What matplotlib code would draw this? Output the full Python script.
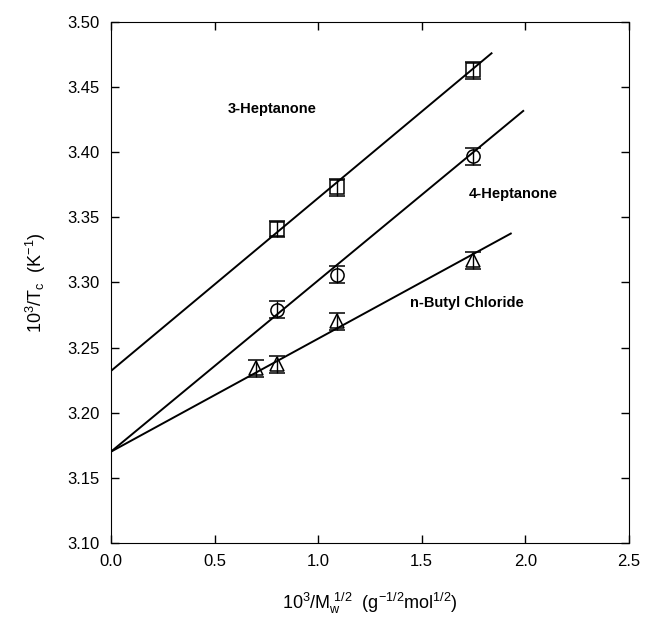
import matplotlib
matplotlib.use("Agg")
import matplotlib.pyplot as plt
import numpy as np

plt.rcParams['font.family'] = ['Liberation Sans', 'DejaVu Sans']
plt.rcParams['mathtext.default'] = 'regular'

# Data
x_3hep = [0.80, 1.09, 1.75]
y_3hep = [3.341, 3.373, 3.463]
x_4hep = [0.80, 1.09, 1.75]
y_4hep = [3.279, 3.306, 3.397]
x_nbc = [0.70, 0.80, 1.09, 1.75]
y_nbc = [3.234, 3.237, 3.270, 3.317]
err = 0.0065

# fitted lines: intercept, slope, end of line
fit_3hep = (3.232, 0.1328, 1.837)
fit_4hep = (3.170, 0.1315, 1.99)
fit_nbc = (3.170, 0.0868, 1.93)

fig = plt.figure(figsize=(6.45, 6.19), dpi=100)
ax = fig.add_axes([0.172, 0.123, 0.803, 0.8415])

for (b, m, xe) in [fit_3hep, fit_4hep, fit_nbc]:
    xs = np.array([0.0, xe])
    ax.plot(xs, b + m * xs, color='black', lw=1.4, zorder=2)

for xs, ys, mk in [(x_3hep, y_3hep, 's'), (x_4hep, y_4hep, 'o'), (x_nbc, y_nbc, '^')]:
    ax.errorbar(xs, ys, yerr=err, fmt=mk, mfc='none', mec='black', ecolor='black',
                ms=9.5, mew=1.1, elinewidth=1.0, capsize=6, capthick=1.0, zorder=3)

ax.text(0.78, 3.433, '3-Heptanone', fontsize=10.5, fontweight='bold', ha='center', va='center')
ax.text(1.94, 3.368, '4-Heptanone', fontsize=10.5, fontweight='bold', ha='center', va='center')
ax.text(1.72, 3.284, 'n-Butyl Chloride', fontsize=10.5, fontweight='bold', ha='center', va='center')

ax.set_xlim(0, 2.5)
ax.set_ylim(3.10, 3.50)
ax.set_xticks(np.arange(0, 2.51, 0.5))
ax.set_yticks(np.arange(3.10, 3.501, 0.05))
ax.xaxis.set_major_formatter(matplotlib.ticker.FormatStrFormatter('%.1f'))
ax.yaxis.set_major_formatter(matplotlib.ticker.FormatStrFormatter('%.2f'))
ax.tick_params(direction='in', top=True, right=True, length=6, width=1, labelsize=12, pad=8)

ax.set_xlabel(r'$10^3/M_w^{\ 1/2}$  $(g^{-1/2}mol^{1/2})$', fontsize=13, labelpad=16)
ax.set_ylabel(r'$10^3/T_c$  $(K^{-1})$', fontsize=13, labelpad=14)

plt.savefig("out.png", dpi=100)
